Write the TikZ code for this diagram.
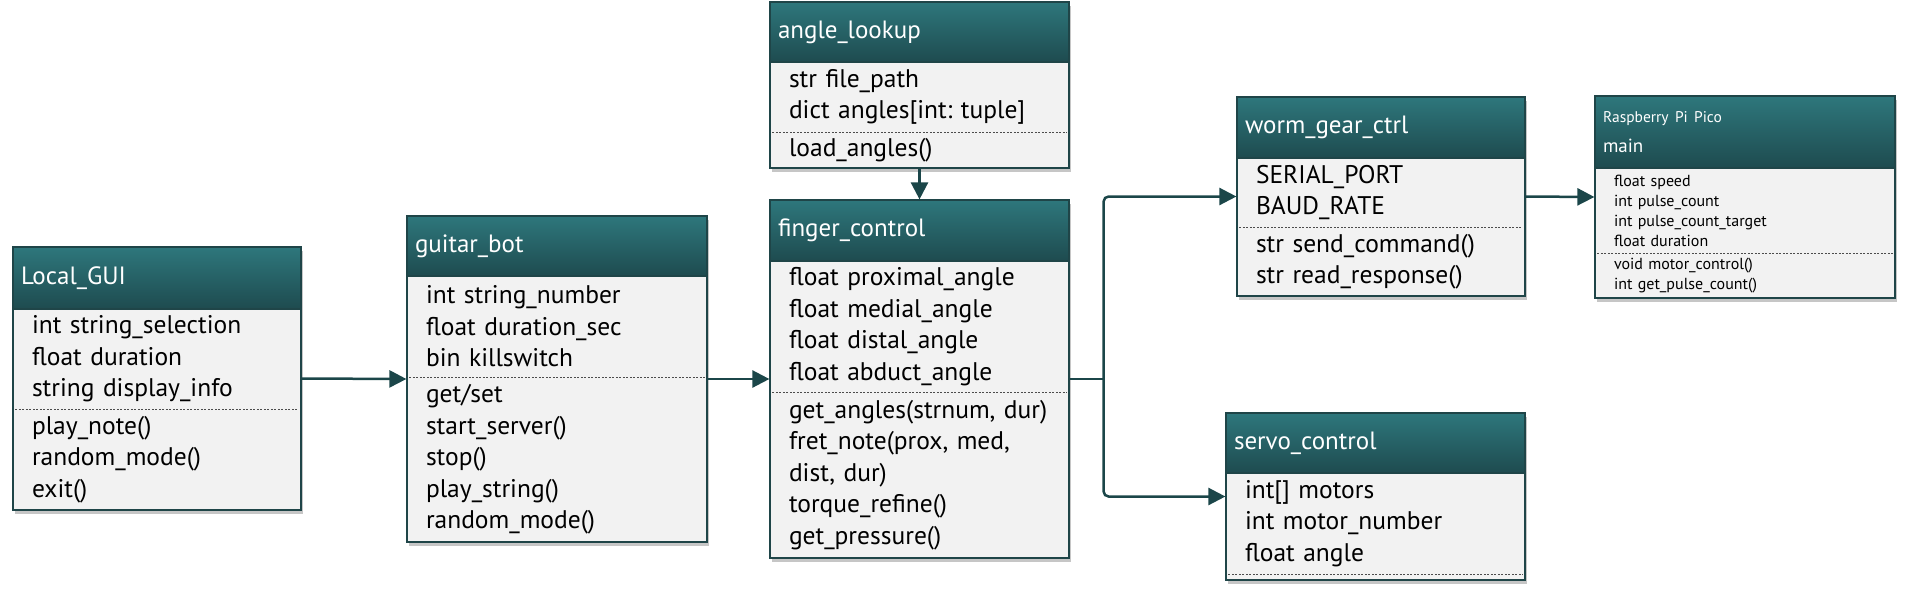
\documentclass[tikz,border=0pt]{standalone}
\usepackage{fontspec}
\setmainfont{PT Sans}
\usetikzlibrary{positioning, arrows.meta, fit, calc, backgrounds, shadows}
\definecolor{HdrTop}{HTML}{2E777C}
\definecolor{HdrBot}{HTML}{1E4B4F}
\definecolor{ClsLine}{HTML}{1F4548}
\definecolor{ClsFill}{HTML}{F2F2F2}
\definecolor{ConnCol}{HTML}{1B4649}

\begin{document}
\begin{tikzpicture}[
  x=1pt, y=-1pt,
  hdr/.style={draw=ClsLine, line width=1.2pt, top color=HdrTop, bottom color=HdrBot,
              text=white, anchor=north west, align=left, inner xsep=8pt, inner ysep=0pt,
              outer sep=0pt, font=\fontsize{25}{30}\selectfont},
  members/.style={anchor=north west, align=left, text width=290pt, inner sep=0pt,
              outer sep=0pt, font=\fontsize{25.5}{31.5}\selectfont\frenchspacing},
  small members/.style={members, font=\fontsize{16}{20}\selectfont\frenchspacing},
  cls/.style={draw=ClsLine, line width=1.2pt, fill=ClsFill, inner sep=0pt,
              drop shadow={shadow xshift=2pt, shadow yshift=-4pt, fill=black!50, opacity=0.45}},
  sepline/.style={draw=black!70, line width=0.8pt, dash pattern=on 2pt off 1.5pt},
  wire/.style={line width=2.5pt, draw=ConnCol},
  conn/.style={wire, -{Triangle[length=17pt, width=17pt]}}
]
\useasboundingbox (0,0) rectangle (1907,595);

% Local_GUI
\node[hdr, minimum width=288pt, text width=272pt, minimum height=62pt] (guiH) at (13,247) {Local\_GUI};
\node[members, minimum height=100pt] (guiA) at ([xshift=19pt]guiH.south west)
  {int string\_selection\\float duration\\string display\_info};
\node[members, minimum height=101pt] (guiM) at (guiA.south west)
  {play\_note()\\random\_mode()\\exit()};

% guitar_bot
\node[hdr, minimum width=300pt, text width=284pt, minimum height=60pt] (botH) at (407,216) {guitar\_bot};
\node[members, minimum height=101pt] (botA) at ([xshift=19pt]botH.south west)
  {int string\_number\\float duration\_sec\\bin killswitch};
\node[members, minimum height=165pt] (botM) at (botA.south west)
  {get/set\\start\_server()\\stop()\\play\_string()\\random\_mode()};

% angle_lookup
\node[hdr, minimum width=299pt, text width=283pt, minimum height=60pt] (lookH) at (770,2) {angle\_lookup};
\node[members, minimum height=70pt] (lookA) at ([xshift=19pt]lookH.south west)
  {str file\_path\\dict angles[int: tuple]};
\node[members, minimum height=36pt] (lookM) at (lookA.south west)
  {load\_angles()};

% finger_control
\node[hdr, minimum width=299pt, text width=283pt, minimum height=61pt] (fingerH) at (770,200) {finger\_control};
\node[members, minimum height=131pt] (fingerA) at ([xshift=19pt]fingerH.south west)
  {float proximal\_angle\\float medial\_angle\\float distal\_angle\\float abduct\_angle};
\node[members, minimum height=166pt] (fingerM) at (fingerA.south west)
  {get\_angles(strnum, dur)\\fret\_note(prox, med,\\dist, dur)\\torque\_refine()\\get\_pressure()};

% worm_gear_ctrl
\node[hdr, minimum width=288pt, text width=272pt, minimum height=61pt] (wormH) at (1237,97) {worm\_gear\_ctrl};
\node[members, minimum height=69pt] (wormA) at ([xshift=19pt]wormH.south west)
  {SERIAL\_PORT\\BAUD\_RATE};
\node[members, minimum height=69pt] (wormM) at (wormA.south west)
  {str send\_command()\\str read\_response()};

% servo_control
\node[hdr, minimum width=299pt, text width=283pt, minimum height=60pt] (servoH) at (1226,413) {servo\_control};
\node[members, minimum height=101pt] (servoA) at ([xshift=19pt]servoH.south west)
  {int[] motors\\int motor\_number\\float angle};
\node[members, minimum height=6pt] (servoM) at (servoA.south west) {};

% Raspberry Pi Pico
\node[hdr, minimum width=300pt, text width=284pt, minimum height=72pt, font=\fontsize{19}{22}\selectfont]
  (picoH) at (1595,96) {{\fontsize{15.5}{18}\selectfont Raspberry Pi Pico}\\[8pt]main};
\node[small members, minimum height=85pt] (picoA) at ([xshift=19pt]picoH.south west)
  {float speed\\int pulse\_count\\int pulse\_count\_target\\float duration};
\node[small members, minimum height=45pt] (picoM) at (picoA.south west)
  {void motor\_control()\\int get\_pulse\_count()};

\begin{scope}[on background layer]
\foreach \cn in {gui, bot, look, finger, worm, servo, pico}
  \node[cls, fit=(\cn H)(\cn H.east |- \cn M.south)] (\cn) {};
\end{scope}

\foreach \cn in {gui, bot, look, finger, worm, servo, pico}
  \draw[sepline] ([xshift=3pt]\cn.west |- \cn A.south) -- ([xshift=-3pt]\cn.east |- \cn A.south);

\coordinate (split) at ([xshift=34pt]finger.east);
\draw[conn] (gui.east) -- (bot.west);
\draw[conn] (bot.east) -- (finger.west);
\draw[conn] (look.south) -- (finger.north);
\draw[wire] (finger.east) -- (split);
\draw[conn, rounded corners=5pt] (split) |- (worm.west);
\draw[conn, rounded corners=5pt] (split) |- (servo.west);
\draw[conn] (worm.east) -- (pico.west);

\end{tikzpicture}
\end{document}
